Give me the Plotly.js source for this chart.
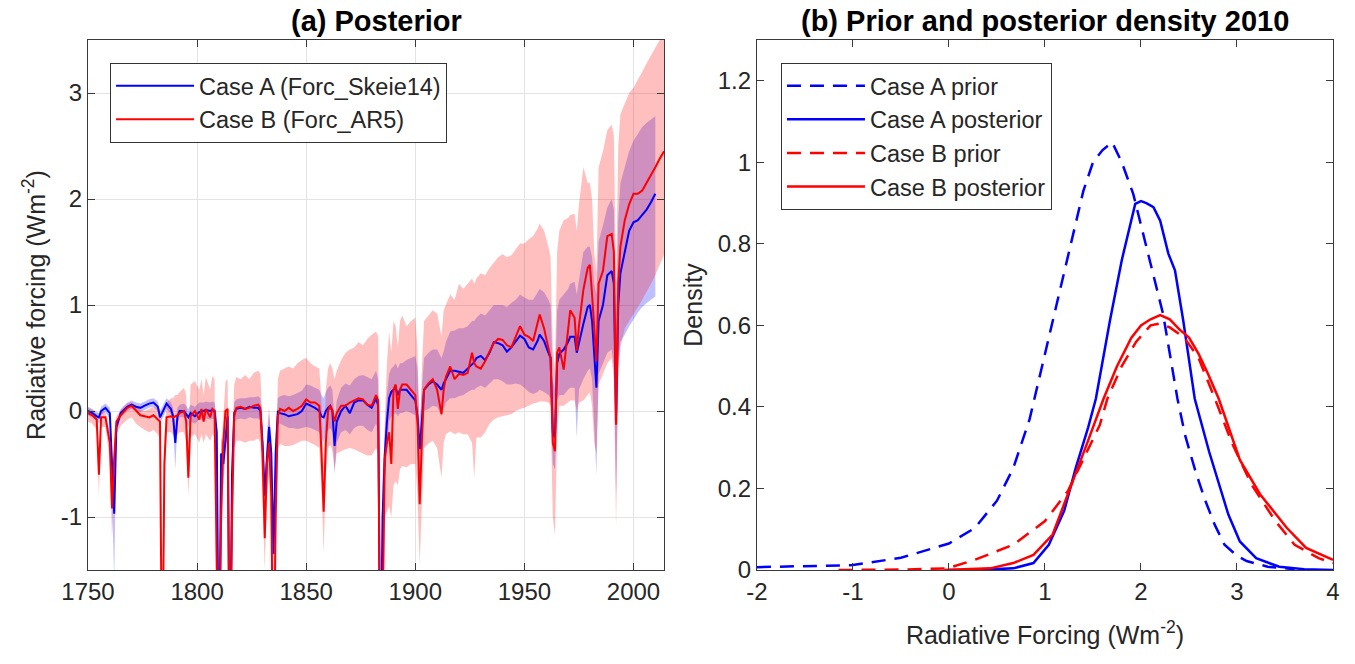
<!DOCTYPE html>
<html>
<head>
<meta charset="utf-8">
<script src="https://cdn.plot.ly/plotly-3.0.1.min.js"></script>
<style>html,body{margin:0;padding:0;background:#fff;}#chart{width:1355px;height:664px;}</style>
</head>
<body>
<div id="chart"></div>
<script>
// ---------- Panel (a): posterior radiative forcing time series ----------
const years = [
1750,1752,1754,1755,1756,1758,1760,1761,1762,1763,
1765,1768,1770,1772,1774,1776,1778,1780,1782,1783,
1784,1785,1786,1788,1789,1790,1791,1792,1794,1795,
1796,1797,1799,1801,1802,1803,1804,1806,1807,1808,
1809,1810,1811,1812,1813,1814,1815,1816,1817,1818,
1820,1822,1824,1826,1828,1829,1830,1831,1832,1833,
1834,1835,1836,1837,1838,1840,1842,1844,1846,1848,
1850,1852,1854,1856,1857,1858,1859,1860,1861,1862,
1863,1864,1866,1868,1870,1872,1874,1876,1878,1880,
1882,1883,1884,1885,1886,1887,1888,1889,1890,1891,
1892,1893,1894,1896,1898,1900,1901,1902,1903,1904,
1906,1908,1910,1912,1913,1914,1916,1918,1920,1922,
1924,1926,1927,1928,1930,1932,1934,1936,1938,1940,
1942,1944,1946,1948,1950,1952,1954,1956,1957,1959,
1961,1962,1963,1964,1965,1966,1968,1970,1971,1973,
1974,1975,1977,1979,1980,1981,1982,1983,1984,1986,
1988,1990,1991,1992,1993,1994,1996,1998,2000,2002,
2004,2006,2008,2010,2012,2014];

const caseA = [
0.00,-0.02,-0.05,-0.06,0.00,0.03,-0.02,-0.55,-0.97,-0.15,
-0.02,0.04,0.06,0.04,0.03,0.05,0.07,0.08,0.04,-0.06,
-0.02,0.02,0.07,0.02,-0.05,-0.30,-0.05,0.00,0.00,-0.03,
-0.06,-0.02,-0.05,-0.01,0.00,0.00,0.01,0.00,0.01,0.00,
-0.20,-2.80,-0.40,-0.50,-0.30,-0.05,-2.80,-0.60,-0.02,0.02,
0.03,0.02,0.04,0.03,0.03,0.00,-0.30,-0.80,-0.45,-0.15,
-0.40,-1.35,-0.40,0.00,-0.02,-0.03,-0.05,-0.04,-0.03,0.00,
0.07,0.05,0.03,0.00,-0.05,-0.06,0.00,0.03,0.05,0.00,
-0.33,-0.10,0.00,0.05,-0.02,0.08,0.10,0.10,0.06,0.03,
0.12,0.05,-2.80,-1.00,-0.42,-0.10,0.12,0.18,0.20,0.22,
0.15,0.20,0.20,0.20,0.15,0.10,-0.05,-0.36,-0.10,0.20,
0.25,0.28,0.25,0.20,0.26,0.30,0.38,0.38,0.37,0.36,
0.40,0.44,0.46,0.50,0.52,0.48,0.55,0.65,0.64,0.62,
0.56,0.60,0.65,0.71,0.68,0.60,0.58,0.66,0.72,0.66,
0.55,0.50,-0.20,-0.25,0.45,0.54,0.58,0.65,0.70,0.70,
0.55,0.65,0.82,0.98,1.00,0.85,0.50,0.22,0.85,1.00,
1.28,1.32,1.20,-0.05,1.00,1.30,1.50,1.70,1.78,1.80,
1.85,1.90,1.97,2.05,null,null];

const caseB = [
-0.02,-0.04,-0.08,-0.60,-0.06,-0.06,-0.30,-0.92,-0.45,-0.10,
-0.04,0.03,0.05,0.00,-0.04,-0.05,-0.06,-0.04,-0.08,-0.10,
-2.80,-0.50,-0.06,-0.05,-0.06,-0.05,-0.04,-0.02,0.00,-0.10,
-0.63,-0.05,0.00,-0.08,0.02,-0.10,0.02,-0.06,0.02,0.00,
-2.80,-2.80,-1.00,-0.30,0.00,0.02,-2.80,-1.00,-0.05,0.03,
0.04,0.02,0.03,0.05,0.06,0.03,-0.40,-1.20,-0.50,-0.30,
-0.80,-2.80,-1.00,-0.05,0.02,0.00,0.03,0.00,0.02,0.05,
0.11,0.08,0.08,0.05,-0.40,-0.95,-0.30,0.00,0.05,0.00,
-0.10,-0.02,0.05,0.05,0.08,0.10,0.12,0.11,0.06,0.05,
0.15,0.10,-2.80,-2.00,-0.45,-0.30,-0.20,-0.50,0.20,0.25,
0.02,0.20,0.25,0.25,0.20,0.15,-0.10,-0.88,-0.30,0.20,
0.26,0.30,0.20,-0.03,0.20,0.32,0.42,0.30,0.35,0.34,
0.36,0.55,0.45,0.42,0.40,0.47,0.56,0.64,0.68,0.67,
0.62,0.60,0.70,0.80,0.72,0.70,0.66,0.82,0.91,0.78,
0.57,0.50,-0.30,-0.38,0.55,0.60,0.39,0.75,0.95,0.88,
0.57,0.80,1.14,1.35,1.38,1.10,0.80,0.47,1.20,1.32,
1.65,1.67,1.50,-0.13,1.20,1.55,1.80,1.95,2.05,2.05,
2.08,2.15,2.22,2.30,2.38,2.45];

const caseALow = [
-0.04,-0.06,-0.09,-0.12,-0.04,-0.01,-0.08,-0.80,-1.60,-0.22,
-0.06,0.00,0.02,0.00,-0.01,0.01,0.03,0.04,0.00,-0.12,
-0.08,-0.03,0.02,-0.03,-0.12,-0.55,-0.12,-0.06,-0.06,-0.10,
-0.15,-0.10,-0.12,-0.08,-0.08,-0.08,-0.07,-0.08,-0.07,-0.08,
-0.35,-3.00,-0.60,-0.70,-0.45,-0.15,-3.00,-1.00,-0.12,-0.08,
-0.07,-0.08,-0.06,-0.07,-0.07,-0.10,-0.50,-1.10,-0.65,-0.30,
-0.60,-1.60,-0.60,-0.12,-0.12,-0.14,-0.16,-0.16,-0.17,-0.16,
-0.15,-0.16,-0.18,-0.20,-0.25,-0.30,-0.22,-0.18,-0.16,-0.20,
-0.60,-0.30,-0.20,-0.18,-0.22,-0.16,-0.14,-0.14,-0.18,-0.20,
-0.12,-0.20,-3.00,-1.40,-0.65,-0.35,-0.10,-0.05,-0.03,-0.02,
-0.05,-0.02,-0.02,0.00,-0.02,-0.04,-0.20,-0.70,-0.40,0.00,
0.02,0.05,0.04,-0.05,0.03,0.08,0.12,0.12,0.14,0.15,
0.18,0.20,0.20,0.22,0.24,0.22,0.26,0.30,0.30,0.28,
0.25,0.25,0.26,0.25,0.22,0.18,0.16,0.18,0.20,0.18,
0.15,0.12,-0.50,-0.55,0.10,0.15,0.15,0.20,0.22,0.22,
-0.25,0.20,0.30,0.38,0.40,0.30,-0.20,-0.60,0.35,0.45,
0.55,0.58,0.40,-0.80,0.40,0.65,0.72,0.80,0.86,0.93,
0.98,1.02,1.05,1.08,null,null];

const caseAHigh = [
0.04,0.02,-0.01,-0.02,0.04,0.07,0.03,-0.40,-0.85,-0.10,
0.02,0.08,0.10,0.08,0.07,0.09,0.11,0.12,0.09,0.00,
0.04,0.07,0.12,0.08,0.03,-0.20,0.03,0.06,0.07,0.05,
0.02,0.06,0.04,0.08,0.08,0.08,0.09,0.08,0.09,0.08,
-0.05,-2.00,-0.25,-0.30,-0.15,0.05,-2.00,-0.40,0.08,0.11,
0.12,0.12,0.13,0.13,0.14,0.12,-0.15,-0.60,-0.30,-0.02,
-0.25,-1.10,-0.25,0.12,0.14,0.15,0.14,0.15,0.17,0.19,
0.25,0.24,0.22,0.20,0.15,0.12,0.18,0.22,0.24,0.20,
-0.10,0.10,0.22,0.26,0.24,0.30,0.33,0.34,0.32,0.30,
0.38,0.30,-2.00,-0.60,-0.20,0.15,0.35,0.40,0.42,0.45,
0.40,0.45,0.45,0.48,0.50,0.52,0.40,-0.10,0.20,0.50,
0.55,0.58,0.58,0.50,0.56,0.65,0.75,0.76,0.78,0.78,
0.80,0.85,0.85,0.88,0.92,0.90,0.95,1.00,1.00,1.00,
0.98,1.02,1.05,1.10,1.07,1.05,1.05,1.12,1.15,1.12,
1.05,1.00,0.30,0.20,0.95,1.05,1.10,1.15,1.20,1.22,
1.10,1.25,1.50,1.55,1.55,1.45,1.20,1.10,1.60,1.75,
1.92,2.00,1.90,0.80,1.80,2.15,2.30,2.45,2.55,2.62,
2.68,2.72,2.75,2.78,null,null];

const caseBLow = [
-0.10,-0.12,-0.18,-0.80,-0.15,-0.15,-0.45,-1.20,-0.70,-0.22,
-0.14,-0.08,-0.06,-0.12,-0.15,-0.18,-0.20,-0.18,-0.22,-0.25,
-3.00,-0.80,-0.20,-0.20,-0.22,-0.25,-0.22,-0.20,-0.20,-0.30,
-0.80,-0.25,-0.22,-0.30,-0.22,-0.30,-0.22,-0.28,-0.22,-0.25,
-3.00,-3.00,-1.60,-0.60,-0.25,-0.25,-3.00,-1.60,-0.35,-0.28,
-0.28,-0.30,-0.28,-0.28,-0.26,-0.30,-0.80,-1.50,-0.80,-0.60,
-1.20,-3.00,-1.40,-0.35,-0.31,-0.33,-0.33,-0.32,-0.30,-0.28,
-0.28,-0.30,-0.32,-0.35,-0.70,-1.35,-0.60,-0.35,-0.32,-0.38,
-0.55,-0.40,-0.38,-0.36,-0.35,-0.36,-0.38,-0.40,-0.42,-0.42,
-0.35,-0.40,-3.00,-2.60,-1.00,-0.95,-0.90,-1.00,-0.70,-0.66,
-0.70,-0.55,-0.52,-0.53,-0.50,-0.50,-0.80,-1.45,-0.90,-0.35,
-0.31,-0.28,-0.35,-0.63,-0.30,-0.22,-0.19,-0.22,-0.20,-0.22,
-0.22,-0.30,-0.63,-0.25,-0.25,-0.20,-0.12,-0.08,-0.06,-0.05,
-0.04,-0.03,0.00,0.02,0.03,0.05,0.07,0.08,0.09,0.09,
0.08,0.05,-1.00,-1.17,-0.20,0.05,0.05,0.08,0.10,0.10,
0.00,0.08,0.10,0.15,0.18,0.05,-0.30,-0.40,0.25,0.35,
0.45,0.50,0.30,-1.10,0.30,0.60,0.78,0.85,0.92,0.98,
1.05,1.12,1.20,1.28,1.38,1.47];

const caseBHigh = [
0.03,0.01,-0.03,-0.50,-0.01,-0.01,-0.20,-0.80,-0.35,-0.05,
0.01,0.07,0.08,0.04,0.01,0.00,0.02,0.04,0.03,0.02,
-2.50,-0.30,0.08,0.12,0.12,0.15,0.15,0.18,0.22,0.15,
-0.30,0.25,0.28,0.20,0.30,0.15,0.32,0.20,0.33,0.30,
-2.00,-2.00,-0.40,0.00,0.28,0.30,-2.00,-0.40,0.25,0.32,
0.30,0.34,0.30,0.36,0.38,0.35,-0.10,-0.85,-0.20,0.05,
-0.50,-2.00,-0.60,0.30,0.38,0.40,0.42,0.40,0.45,0.48,
0.50,0.45,0.42,0.40,0.10,-0.50,0.20,0.40,0.45,0.40,
0.30,0.38,0.48,0.55,0.58,0.60,0.65,0.62,0.68,0.72,
0.75,0.70,-2.00,-1.20,-0.10,0.45,0.75,0.55,0.85,0.80,
0.60,0.85,0.90,0.80,0.85,0.88,0.60,-0.40,0.40,0.85,
0.90,0.95,0.92,0.70,0.95,1.00,1.10,1.05,1.20,1.15,
1.20,1.25,1.20,1.25,1.30,1.28,1.35,1.40,1.45,1.48,
1.45,1.47,1.52,1.58,1.58,1.62,1.65,1.72,1.77,1.70,
1.55,1.45,0.60,0.40,1.50,1.70,1.80,1.82,1.85,1.86,
1.70,1.95,2.30,2.15,2.15,2.00,1.50,1.30,2.30,2.45,
2.65,2.70,2.60,1.20,2.50,2.80,2.90,3.00,3.05,3.12,
3.20,3.28,3.35,3.42,3.50,3.60];

const yearTicks = [1750, 1800, 1850, 1900, 1950, 2000];
const forcingTicks = [-1, 0, 1, 2, 3];
const forcingTickText = ['-1', '0', '1', '2', '3'];

// ---------- Panel (b): prior and posterior densities, 2010 ----------
const priorA_x = [-2,-1.5,-1,-0.5,-0.2,0,0.27,0.5,0.67,0.84,1.0,1.2,1.4,1.5,1.6,1.7,1.8,1.92,2.05,2.23,2.38,2.46,2.57,2.67,2.77,2.87,3.0,3.1,3.32,3.6];
const priorA_y = [0.007,0.009,0.012,0.03,0.05,0.065,0.103,0.17,0.25,0.37,0.53,0.73,0.93,1.0,1.03,1.049,1.0,0.922,0.8,0.628,0.42,0.33,0.24,0.17,0.11,0.062,0.035,0.022,0.008,0.002];

const postA_x = [0.0,0.27,0.67,0.88,1.04,1.2,1.32,1.45,1.53,1.677,1.8,1.94,2.0,2.056,2.13,2.2,2.285,2.354,2.44,2.56,2.71,2.91,3.03,3.2,3.44,3.7,4.0];
const postA_y = [0,0,0.004,0.017,0.062,0.145,0.25,0.35,0.42,0.612,0.76,0.898,0.905,0.9,0.89,0.857,0.776,0.735,0.612,0.42,0.29,0.136,0.07,0.029,0.008,0.002,0];

const priorB_x = [-1.15,-0.5,-0.02,0.27,0.67,1.0,1.24,1.4,1.57,1.65,1.8,1.95,2.1,2.2,2.3,2.45,2.6,2.77,2.95,3.15,3.4,3.6,3.85,4.0];
const priorB_y = [0,0.001,0.004,0.025,0.062,0.12,0.194,0.273,0.355,0.42,0.5,0.56,0.6,0.605,0.595,0.57,0.52,0.42,0.31,0.21,0.12,0.062,0.029,0.017];

const postB_x = [-0.05,0.43,0.67,0.88,1.08,1.28,1.45,1.61,1.75,1.9,2.0,2.1,2.2,2.3,2.4,2.5,2.6,2.7,2.81,3.03,3.24,3.52,3.72,4.0];
const postB_y = [0,0.004,0.017,0.037,0.087,0.21,0.318,0.42,0.5,0.57,0.6,0.615,0.625,0.615,0.59,0.57,0.53,0.48,0.42,0.27,0.186,0.103,0.054,0.025];

const rfTicks = [-2, -1, 0, 1, 2, 3, 4];
const rfTickText = ['-2', '-1', '0', '1', '2', '3', '4'];
const densTicks = [0, 0.2, 0.4, 0.6, 0.8, 1.0, 1.2];
const densTickText = ['0', '0.2', '0.4', '0.6', '0.8', '1', '1.2'];

// ---------- build ----------
function bandPolygon(x, lo, hi) {
  const xs = [], up = [], dn = [];
  for (let i = 0; i < x.length; i++) {
    if (lo[i] === null || hi[i] === null) continue;
    xs.push(x[i]); up.push(hi[i]); dn.push(lo[i]);
  }
  return { x: xs.concat(xs.slice().reverse()), y: up.concat(dn.slice().reverse()) };
}
function valid(x, y) {
  const xs = [], ys = [];
  for (let i = 0; i < x.length; i++) { if (y[i] !== null) { xs.push(x[i]); ys.push(y[i]); } }
  return { x: xs, y: ys };
}

const FONT = 'Liberation Sans, Arial, Helvetica, sans-serif';
const TXT = '#262626';
const AX = '#3a3a3a';

const bA = bandPolygon(years, caseALow, caseAHigh);
const bB = bandPolygon(years, caseBLow, caseBHigh);
const lA = valid(years, caseA);
const lB = valid(years, caseB);

const traces = [
  { x: bA.x, y: bA.y, type: 'scatter', mode: 'lines', fill: 'toself',
    fillcolor: 'rgba(0,0,255,0.25)', line: { width: 0, color: 'rgba(0,0,0,0)' },
    hoverinfo: 'skip', showlegend: false, xaxis: 'x', yaxis: 'y' },
  { x: bB.x, y: bB.y, type: 'scatter', mode: 'lines', fill: 'toself',
    fillcolor: 'rgba(255,0,0,0.25)', line: { width: 0, color: 'rgba(0,0,0,0)' },
    hoverinfo: 'skip', showlegend: false, xaxis: 'x', yaxis: 'y' },
  { x: lA.x, y: lA.y, type: 'scatter', mode: 'lines', name: 'Case A (Forc_Skeie14)',
    line: { color: '#0000ff', width: 2 }, xaxis: 'x', yaxis: 'y', legend: 'legend' },
  { x: lB.x, y: lB.y, type: 'scatter', mode: 'lines', name: 'Case B (Forc_AR5)',
    line: { color: '#ff0000', width: 2 }, xaxis: 'x', yaxis: 'y', legend: 'legend' },

  { x: priorA_x, y: priorA_y, type: 'scatter', mode: 'lines', name: 'Case A prior',
    line: { color: '#0000ff', width: 2.5, dash: '14px,9px' }, xaxis: 'x2', yaxis: 'y2', legend: 'legend2' },
  { x: postA_x, y: postA_y, type: 'scatter', mode: 'lines', name: 'Case A posterior',
    line: { color: '#0000ff', width: 2.5 }, xaxis: 'x2', yaxis: 'y2', legend: 'legend2' },
  { x: priorB_x, y: priorB_y, type: 'scatter', mode: 'lines', name: 'Case B prior',
    line: { color: '#ff0000', width: 2.5, dash: '14px,9px' }, xaxis: 'x2', yaxis: 'y2', legend: 'legend2' },
  { x: postB_x, y: postB_y, type: 'scatter', mode: 'lines', name: 'Case B posterior',
    line: { color: '#ff0000', width: 2.5 }, xaxis: 'x2', yaxis: 'y2', legend: 'legend2' }
];

const axisCommon = {
  showline: true, linecolor: AX, linewidth: 1, mirror: 'ticks',
  ticks: 'inside', ticklen: 7, tickwidth: 1, tickcolor: AX,
  zeroline: false, tickfont: { family: FONT, size: 24, color: TXT },
  fixedrange: true
};

const layout = {
  width: 1355, height: 664,
  margin: { l: 88, r: 22, t: 40, b: 94 },
  paper_bgcolor: '#ffffff', plot_bgcolor: '#ffffff',
  font: { family: FONT, color: TXT, size: 24 },
  xaxis: Object.assign({}, axisCommon, {
    domain: [0, 0.4627], range: [1750, 2014], tickmode: 'array', tickvals: yearTicks,
    showgrid: true, gridcolor: '#e3e3e3', gridwidth: 1, anchor: 'y'
  }),
  yaxis: Object.assign({}, axisCommon, {
    range: [-1.5, 3.5], tickmode: 'array', tickvals: forcingTicks, ticktext: forcingTickText,
    showgrid: true, gridcolor: '#e3e3e3', gridwidth: 1, anchor: 'x',
    title: { text: 'Radiative forcing (Wm<sup>-2</sup>)', font: { family: FONT, size: 25, color: TXT }, standoff: 8 }
  }),
  xaxis2: Object.assign({}, axisCommon, {
    domain: [0.5373, 1], range: [-2, 4], tickmode: 'array', tickvals: rfTicks, ticktext: rfTickText,
    showgrid: false, anchor: 'y2',
    title: { text: 'Radiative Forcing (Wm<sup>-2</sup>)', font: { family: FONT, size: 25, color: TXT }, standoff: 22 }
  }),
  yaxis2: Object.assign({}, axisCommon, {
    range: [0, 1.3], tickmode: 'array', tickvals: densTicks, ticktext: densTickText,
    showgrid: false, anchor: 'x2',
    title: { text: 'Density', font: { family: FONT, size: 25, color: TXT }, standoff: 8 }
  }),
  legend: {
    x: 0.0177, y: 0.9566, xanchor: 'left', yanchor: 'top',
    bgcolor: '#ffffff', bordercolor: '#333333', borderwidth: 1,
    font: { family: FONT, size: 23.5, color: TXT }, itemwidth: 78, tracegroupgap: 0
  },
  legend2: {
    x: 0.5566, y: 0.9566, xanchor: 'left', yanchor: 'top',
    bgcolor: '#ffffff', bordercolor: '#333333', borderwidth: 1,
    font: { family: FONT, size: 23.5, color: TXT }, itemwidth: 78, tracegroupgap: 0
  },
  annotations: [
    { text: '<b>(a) Posterior</b>', xref: 'paper', yref: 'paper', x: 0.23135, y: 1,
      xanchor: 'center', yanchor: 'bottom', yshift: 1, showarrow: false,
      font: { family: FONT, size: 29, color: '#000000' } },
    { text: '<b>(b) Prior and posterior density 2010</b>', xref: 'paper', yref: 'paper', x: 0.76865, y: 1,
      xanchor: 'center', yanchor: 'bottom', yshift: 1, showarrow: false,
      font: { family: FONT, size: 29, color: '#000000' } }
  ],
  showlegend: true
};

Plotly.newPlot('chart', traces, layout, { displayModeBar: false, staticPlot: true });
</script>
</body>
</html>
